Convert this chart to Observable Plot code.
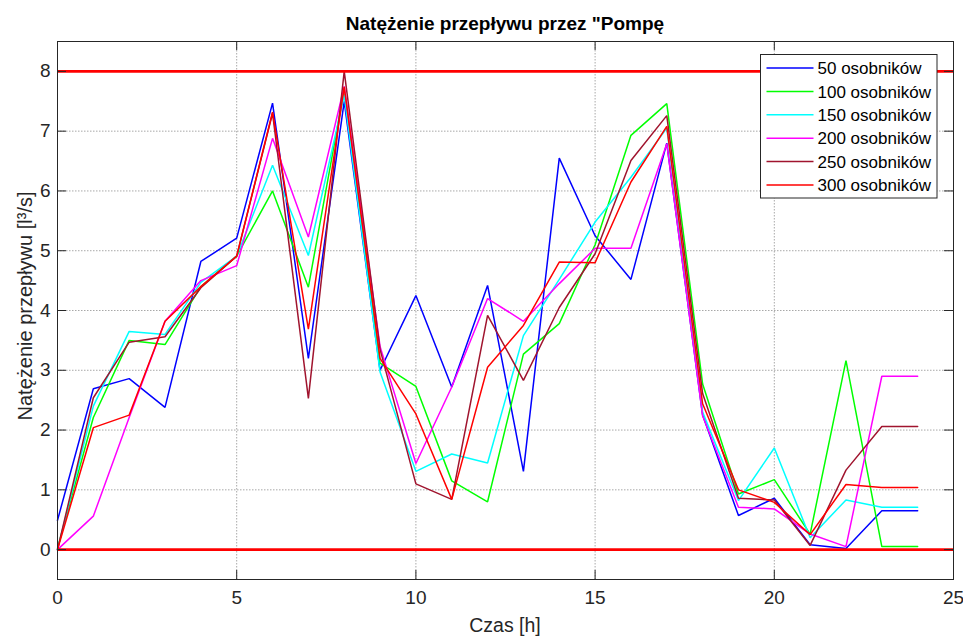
<!DOCTYPE html>
<html>
<head>
<meta charset="utf-8">
<script src="https://cdn.jsdelivr.net/npm/d3@7"></script>
<script src="https://cdn.jsdelivr.net/npm/@observablehq/plot@0.6"></script>
<style>
  html, body { margin: 0; padding: 0; background: #fff; }
  svg { display: block; }
</style>
</head>
<body>
<div id="chart"></div>
<script>
// ---- data ----
const hours = [0,1,2,3,4,5,6,7,8,9,10,11,12,13,14,15,16,17,18,19,20,21,22,23,24];
const names = ["50 osobników","100 osobników","150 osobników","200 osobników","250 osobników","300 osobników"];
const colors = ["#0000ff","#00ff00","#00ffff","#ff00ff","#a0142e","#ff0000"];
const s50  = [0.49,2.69,2.86,2.38,4.82,5.21,7.47,3.20,7.50,3.00,4.25,2.72,4.42,1.31,6.55,5.25,4.52,6.80,2.25,0.57,0.86,0.08,0.02,0.65,0.65];
const s100 = [0.02,2.21,3.50,3.43,4.40,4.91,6.00,4.39,7.70,3.12,2.73,1.15,0.80,3.27,3.78,5.10,6.93,7.46,2.77,0.93,1.17,0.26,3.16,0.05,0.05];
const s150 = [0.00,2.40,3.65,3.60,4.47,4.91,6.43,4.92,7.60,2.97,1.31,1.60,1.45,3.58,4.52,5.48,6.23,7.05,2.30,0.82,1.70,0.20,0.83,0.71,0.71];
const s200 = [0.00,0.56,2.21,3.82,4.50,4.75,6.88,5.23,7.75,3.40,1.44,2.72,4.20,3.82,4.45,5.04,5.04,6.79,2.24,0.71,0.68,0.26,0.05,2.90,2.90];
const s250 = [0.00,2.54,3.47,3.56,4.38,4.91,7.30,2.53,8.00,3.35,1.10,0.84,3.92,2.83,4.05,4.95,6.51,7.26,2.61,0.86,0.83,0.07,1.33,2.06,2.06];
const s300 = [0.00,2.04,2.25,3.82,4.40,4.91,7.32,3.69,7.74,3.20,2.27,0.84,3.05,3.75,4.81,4.80,6.15,7.08,2.44,1.00,0.79,0.25,1.09,1.04,1.04];
const seriesValues = [s50, s100, s150, s200, s250, s300];
const limits = [0, 8];
const xTicks = [0,5,10,15,20,25];
const yTicks = [0,1,2,3,4,5,6,7,8];
const title = "Natężenie przepływu przez \"Pompę";
const xLabel = "Czas [h]";
const yLabel = "Natężenie przepływu [l³/s]";

// ---- build table ----
const rows = seriesValues.flatMap((vals, i) =>
  vals.map((v, j) => ({hour: hours[j], value: v, name: names[i]})));

const W = 963, H = 637;
const mL = 57, mR = 10, mT = 41, mB = 58;
const pw = W - mL - mR, ph = H - mT - mB;
const tickLen = 9;
const ink = "#262626";
const font = "'Liberation Sans', Arial, sans-serif";

const chart = Plot.plot({
  width: W, height: H,
  marginLeft: mL, marginRight: mR, marginTop: mT, marginBottom: mB,
  style: {fontFamily: font, fontSize: "19px", color: ink, background: "#fff"},
  x: {domain: [0, 25], ticks: xTicks, tickSize: 0, tickPadding: 11, label: null, tickFormat: d => String(d)},
  y: {domain: [-0.5, 8.5], ticks: yTicks, tickSize: 0, tickPadding: 7, label: null, tickFormat: d => String(d)},
  color: {domain: names, range: colors},
  marks: [
    // grid
    Plot.ruleX(xTicks.slice(1, -1), {stroke: "#a8a8a8", strokeWidth: 1, strokeDasharray: "1.5,1.5"}),
    Plot.ruleY(yTicks, {stroke: "#a8a8a8", strokeWidth: 1, strokeDasharray: "1.5,1.5"}),
    // series
    Plot.line(rows, {x: "hour", y: "value", z: "name", stroke: "name", strokeWidth: 1.5, strokeLinejoin: "miter"}),
    // limit lines
    Plot.ruleY(limits, {stroke: "#ff0000", strokeWidth: 2.6}),
    // inward ticks
    Plot.ruleY(yTicks, {stroke: ink, strokeWidth: 1, insetRight: pw - tickLen}),
    Plot.ruleY(yTicks, {stroke: ink, strokeWidth: 1, insetLeft: pw - tickLen}),
    Plot.ruleX(xTicks, {stroke: ink, strokeWidth: 1, insetTop: ph - tickLen}),
    Plot.ruleX(xTicks, {stroke: ink, strokeWidth: 1, insetBottom: ph - tickLen}),
    Plot.frame({stroke: ink, strokeWidth: 1})
  ]
});

const svg = d3.select(chart);

// title
svg.append("text")
  .attr("x", mL + pw / 2).attr("y", 30)
  .attr("text-anchor", "middle")
  .attr("font-family", font).attr("font-size", 19).attr("font-weight", "bold")
  .attr("fill", "#000")
  .text(title);

// x label
svg.append("text")
  .attr("x", mL + pw / 2).attr("y", 632)
  .attr("text-anchor", "middle")
  .attr("font-family", font).attr("font-size", 19.5)
  .attr("fill", ink)
  .text(xLabel);

// y label
svg.append("text")
  .attr("transform", `translate(32,${mT + ph / 2 - 4}) rotate(-90)`)
  .attr("text-anchor", "middle")
  .attr("font-family", font).attr("font-size", 20)
  .attr("fill", ink)
  .text(yLabel);

// legend
const lg = svg.append("g").attr("transform", "translate(760.5,54.5)");
const rowH = 23.4;
lg.append("rect")
  .attr("width", 176.5).attr("height", 143.5)
  .attr("fill", "#fff").attr("stroke", ink).attr("stroke-width", 1);
names.forEach((n, i) => {
  const cy = 13.5 + i * rowH;
  lg.append("line").attr("x1", 6).attr("x2", 53).attr("y1", cy).attr("y2", cy)
    .attr("stroke", colors[i]).attr("stroke-width", 1.5);
  lg.append("text").attr("x", 57).attr("y", cy).attr("dy", "0.36em")
    .attr("text-anchor", "start")
    .attr("font-family", font).attr("font-size", 17).attr("fill", "#000")
    .text(n);
});

document.getElementById("chart").appendChild(chart);
</script>
</body>
</html>
